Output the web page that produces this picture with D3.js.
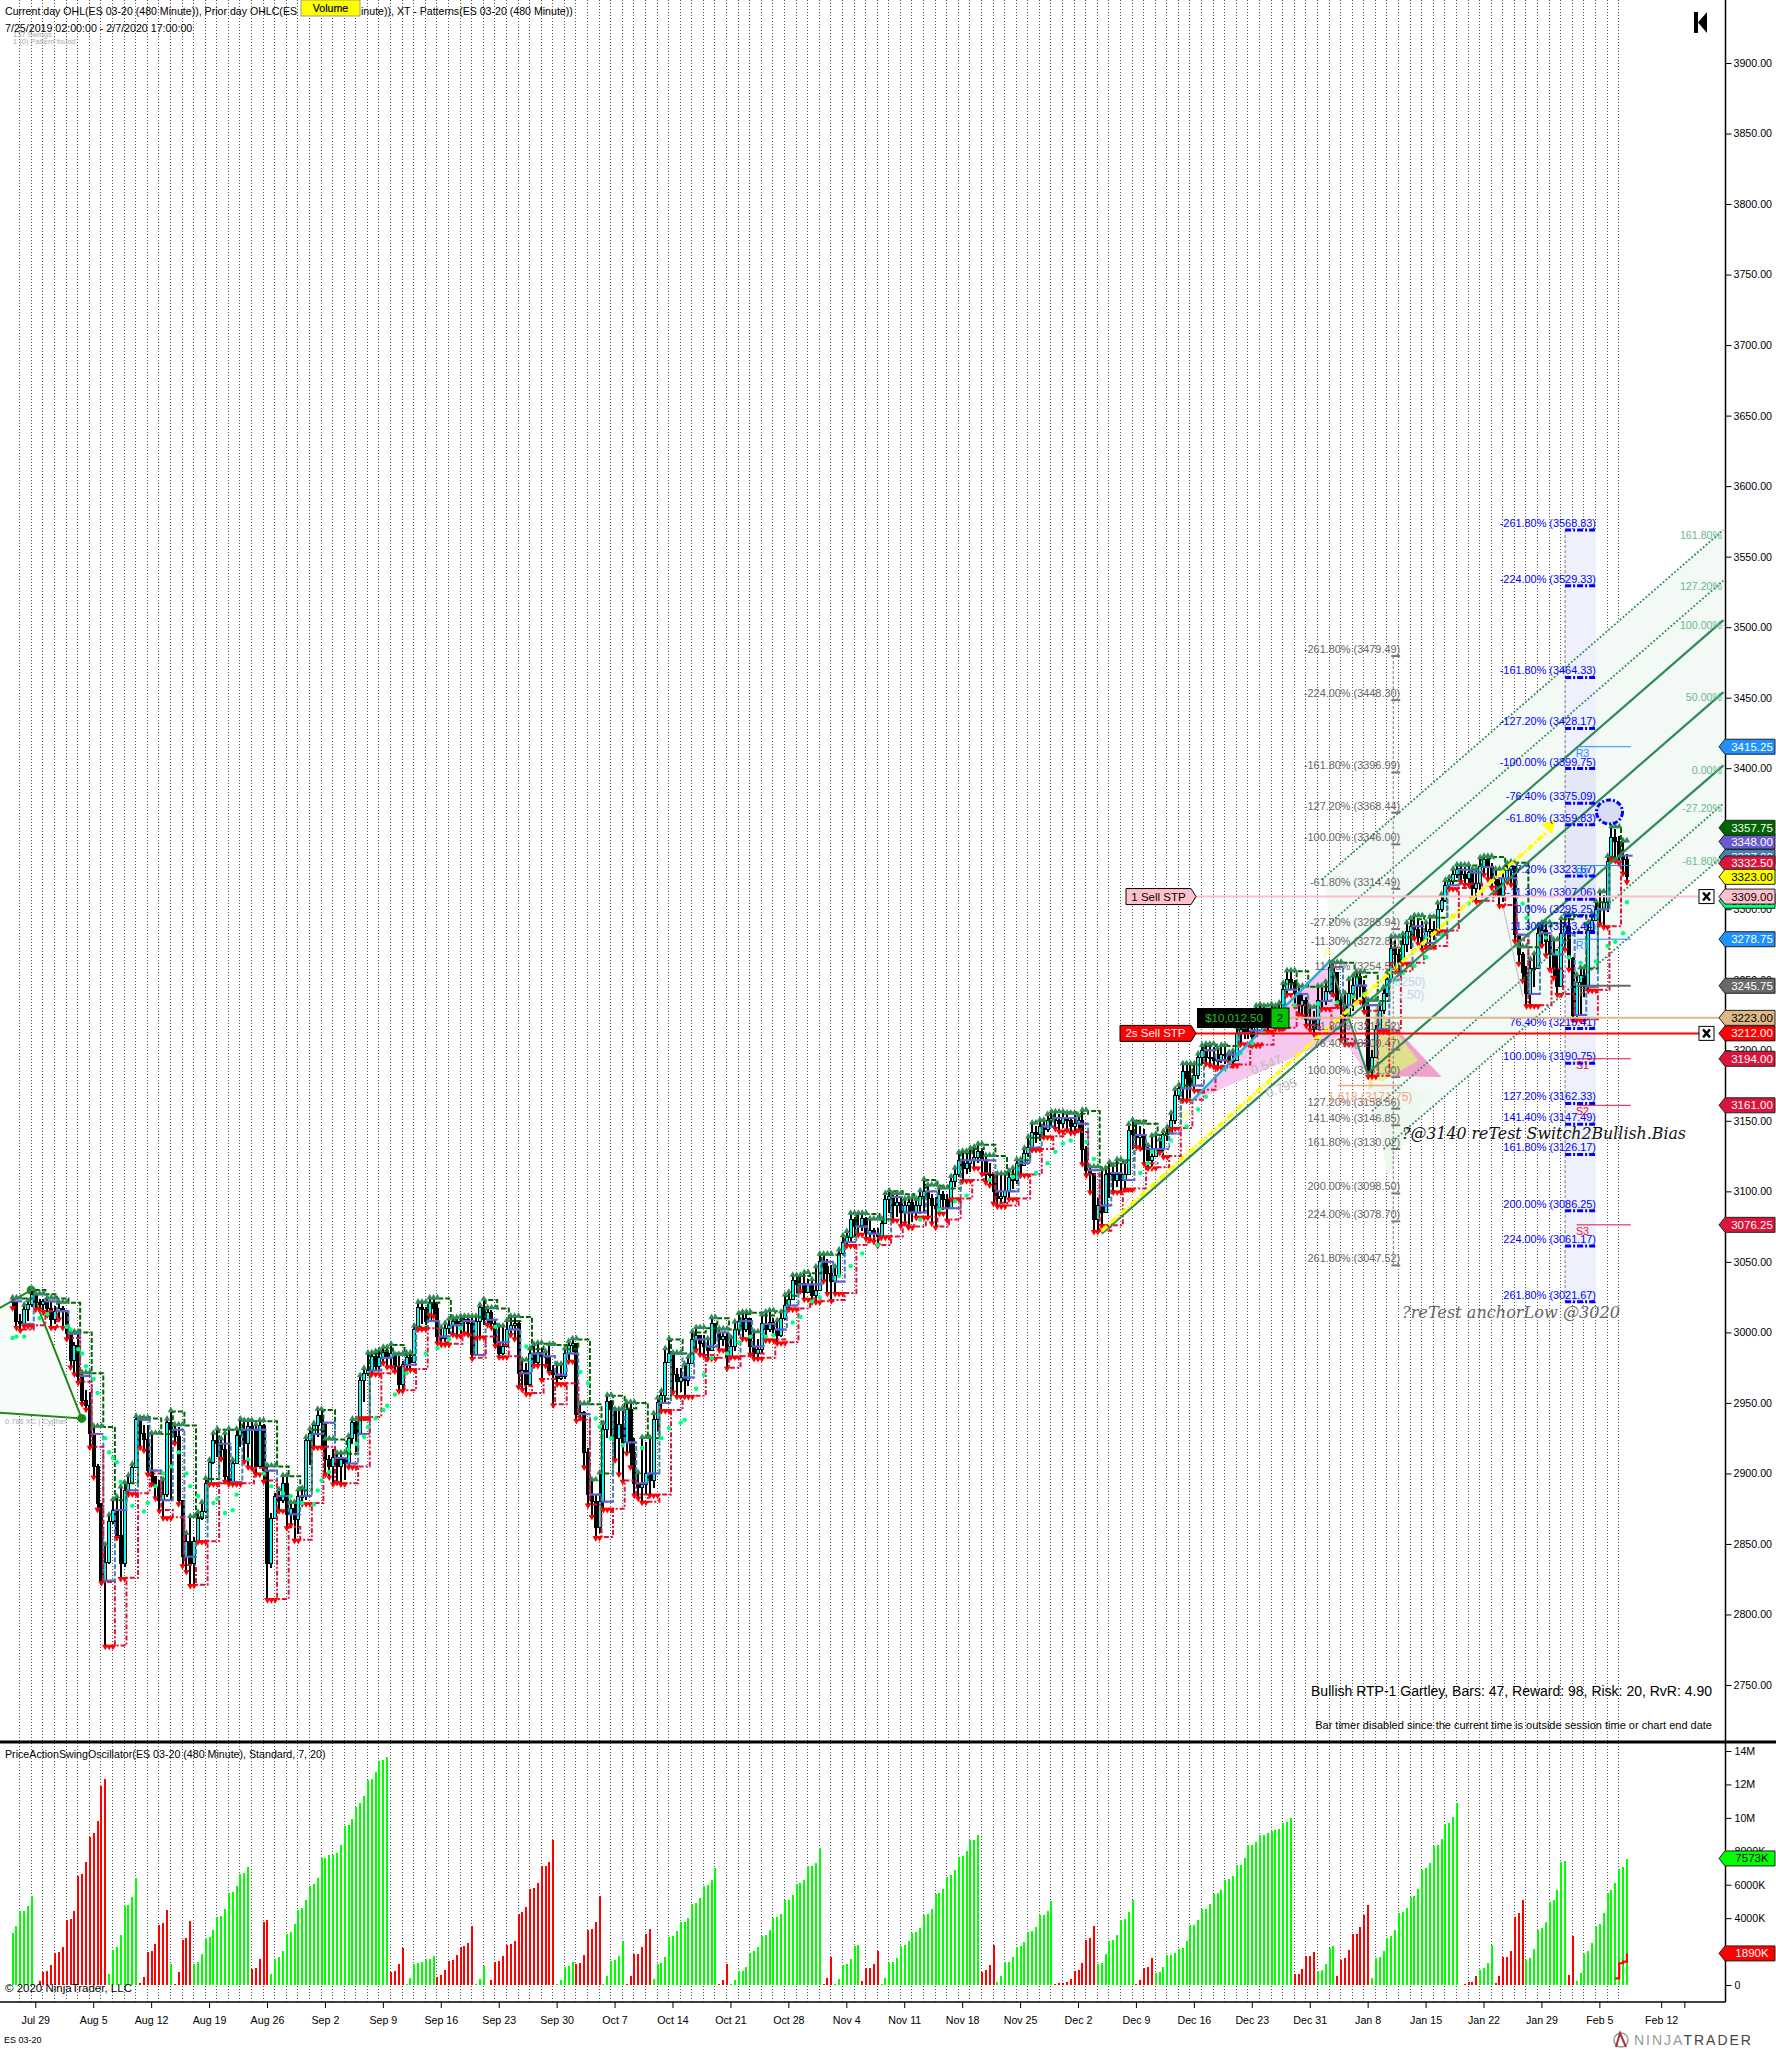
<!DOCTYPE html>
<html>
<head>
<meta charset="utf-8">
<style>
  body { margin: 0; background: #fff; }
  svg { display: block; }
  text { font-family: "Liberation Sans", Arial, sans-serif; font-size: 10.67px; }
</style>
<script src="https://cdn.jsdelivr.net/npm/d3@7"></script>
</head>
<body>
<svg width="1776" height="2049"></svg>
<script>
// 480 minute bars, ten values per row
var closes = [
  3022,3008,3006,3016,3020,3027,3021,3020,3022,3017,
  3009,3015,3017,3015,2999,2980,2991,2969,2952,2948,
  2928,2905,2879,2824,2837,2866,2874,2856,2836,2888,
  2893,2904,2938,2928,2924,2902,2898,2891,2881,2885,
  2936,2931,2926,2881,2841,2852,2836,2852,2868,2873,
  2893,2908,2923,2921,2917,2898,2894,2907,2927,2931,
  2921,2933,2931,2905,2934,2902,2836,2868,2884,2881,
  2893,2871,2875,2867,2884,2884,2923,2928,2934,2941,
  2936,2910,2905,2911,2905,2910,2907,2925,2936,2928,
  2966,2971,2973,2983,2976,2982,2986,2982,2985,2976,
  2963,2977,2982,2979,3002,3018,3016,3008,3021,3017,
  2997,2996,3003,3005,3008,3006,3008,3009,3006,2984,
  3008,3018,3009,3014,3006,2993,2985,2990,3002,3005,
  3006,2971,2973,2963,2985,2979,2986,2983,2983,2973,
  2970,2967,2969,2985,2991,2992,2942,2943,2915,2885,
  2880,2862,2880,2931,2951,2945,2925,2935,2922,2945,
  2915,2893,2890,2892,2900,2895,2938,2950,2955,2979,
  2985,2970,2965,2968,2966,2978,2995,2998,2992,2990,
  2987,3006,3000,2995,2997,2982,2990,3002,3008,3002,
  3010,2990,2985,2988,3006,3002,3007,3002,2998,3010,
  3019,3023,3037,3034,3035,3028,3034,3026,3030,3050,
  3047,3042,3036,3040,3056,3064,3067,3080,3075,3076,
  3081,3070,3072,3070,3068,3077,3094,3096,3090,3092,
  3085,3090,3092,3085,3090,3096,3100,3095,3090,3088,
  3098,3094,3088,3107,3112,3122,3116,3120,3122,3124,
  3128,3122,3112,3112,3100,3095,3096,3100,3110,3108,
  3120,3118,3127,3131,3142,3140,3146,3144,3150,3152,
  3150,3148,3152,3150,3146,3148,3150,3130,3115,3113,
  3080,3090,3085,3112,3113,3108,3112,3108,3112,3143,
  3140,3138,3140,3130,3122,3125,3130,3130,3140,3141,
  3150,3168,3173,3185,3180,3175,3182,3195,3200,3195,
  3195,3193,3193,3197,3197,3193,3193,3212,3215,3213,
  3214,3210,3225,3223,3222,3220,3228,3222,3228,3243,
  3250,3248,3240,3232,3235,3222,3223,3215,3235,3235,
  3242,3259,3255,3235,3232,3225,3240,3246,3252,3245,
  3232,3186,3195,3215,3228,3240,3250,3272,3268,3262,
  3275,3284,3288,3286,3280,3276,3284,3286,3282,3300,
  3306,3317,3320,3325,3328,3325,3322,3326,3315,3318,
  3330,3335,3330,3322,3318,3310,3322,3328,3330,3282,
  3268,3255,3240,3258,3258,3283,3285,3277,3268,3258,
  3245,3283,3288,3265,3225,3248,3253,3245,3285,3292,
  3300,3300,3305,3334,3351,3348,3338,3335,3323
];
var highs = [
  3024,3022,3013,3019,3022,3030,3027,3024,3024,3024,
  3022,3019,3021,3019,3016,3000,2993,2999,2971,2959,
  2958,2933,2907,2878,2849,2870,2881,2883,2890,2893,
  2898,2906,2940,2939,2934,2934,2928,2898,2895,2895,
  2938,2944,2934,2933,2881,2857,2869,2855,2872,2879,
  2896,2909,2928,2931,2924,2928,2931,2909,2931,2938,
  2937,2937,2937,2934,2937,2935,2905,2872,2886,2888,
  2898,2898,2879,2878,2888,2889,2925,2931,2935,2945,
  2945,2924,2913,2917,2914,2914,2912,2926,2938,2937,
  2969,2974,2985,2985,2986,2987,2989,2989,2991,2984,
  2983,2980,2985,2985,3004,3021,3021,3018,3024,3024,
  3021,3003,3006,3009,3010,3010,3011,3011,3010,3010,
  3011,3019,3023,3017,3016,3009,3004,3004,3008,3011,
  3011,3009,2980,2978,2988,2991,2992,2989,2986,2991,
  2977,2977,2977,2988,2993,2995,2992,2949,2944,2918,
  2895,2885,2900,2935,2955,2952,2945,2945,2946,2950,
  2950,2925,2900,2925,2922,2925,2942,2953,2958,2988,
  2995,2985,2975,2975,2977,2982,3000,3003,2998,2998,
  2995,3010,3005,3002,3000,3000,2996,3007,3013,3014,
  3014,3010,3000,2995,3012,3014,3015,3010,3008,3014,
  3026,3028,3040,3040,3040,3042,3038,3037,3046,3055,
  3055,3052,3048,3046,3058,3068,3071,3084,3082,3084,
  3084,3082,3080,3074,3074,3080,3098,3100,3098,3098,
  3095,3094,3095,3095,3094,3100,3108,3104,3098,3096,
  3102,3100,3098,3110,3116,3127,3128,3127,3130,3131,
  3133,3131,3125,3120,3112,3112,3112,3112,3114,3116,
  3122,3122,3130,3138,3148,3146,3150,3150,3154,3156,
  3156,3155,3156,3155,3153,3154,3153,3157,3132,3117,
  3112,3095,3115,3116,3120,3118,3122,3120,3120,3147,
  3150,3148,3146,3144,3132,3139,3140,3136,3142,3145,
  3155,3172,3175,3190,3190,3190,3190,3197,3203,3204,
  3203,3202,3201,3203,3203,3198,3199,3216,3218,3218,
  3220,3220,3231,3232,3231,3230,3232,3231,3233,3247,
  3256,3256,3250,3245,3240,3238,3230,3228,3245,3245,
  3248,3262,3262,3250,3240,3240,3250,3252,3255,3255,
  3250,3235,3200,3218,3232,3244,3255,3280,3278,3272,
  3282,3290,3293,3295,3294,3292,3290,3294,3292,3304,
  3310,3320,3322,3328,3331,3331,3330,3331,3328,3328,
  3336,3337,3337,3333,3328,3322,3327,3332,3333,3331,
  3273,3270,3260,3264,3268,3288,3290,3290,3282,3278,
  3272,3293,3296,3294,3266,3253,3258,3258,3290,3296,
  3305,3312,3310,3337,3358,3357,3352,3348,3339
];
var lows = [
  3018,3004,3002,3005,3008,3018,3017,3017,3015,3013,
  3004,3006,3010,3004,2996,2976,2971,2965,2950,2946,
  2919,2898,2875,2823,2778,2836,2864,2855,2826,2834,
  2886,2893,2905,2919,2917,2900,2893,2883,2874,2869,
  2883,2881,2922,2879,2835,2831,2821,2821,2852,2867,
  2872,2893,2907,2912,2911,2895,2893,2893,2907,2919,
  2909,2905,2904,2900,2904,2895,2811,2833,2868,2874,
  2879,2862,2864,2853,2857,2879,2881,2906,2919,2926,
  2919,2900,2898,2893,2894,2893,2895,2905,2921,2915,
  2940,2951,2969,2971,2973,2973,2979,2976,2976,2973,
  2959,2959,2974,2974,2978,3003,3006,3005,3013,3012,
  2993,2992,2993,2999,2999,2998,2999,3000,2999,2982,
  2997,2997,3005,3006,3004,2991,2983,2984,2991,2999,
  2996,2962,2960,2957,2963,2977,2977,2967,2977,2972,
  2949,2964,2966,2967,2980,2986,2938,2940,2905,2878,
  2870,2855,2858,2875,2925,2925,2910,2900,2895,2915,
  2905,2885,2883,2880,2885,2885,2890,2930,2945,2950,
  2978,2958,2955,2958,2955,2962,2978,2988,2985,2984,
  2982,2990,2992,2988,2990,2975,2983,2987,2998,2996,
  3000,2985,2982,2982,2985,2995,3000,2997,2993,2997,
  3009,3017,3025,3028,3030,3024,3028,3022,3022,3035,
  3037,3028,3023,3028,3040,3055,3062,3065,3068,3070,
  3072,3067,3066,3065,3062,3068,3078,3085,3080,3082,
  3076,3078,3075,3078,3082,3084,3085,3082,3078,3075,
  3085,3087,3080,3095,3103,3110,3108,3112,3114,3117,
  3120,3113,3107,3105,3092,3090,3091,3092,3095,3102,
  3105,3112,3118,3124,3130,3134,3136,3139,3142,3146,
  3145,3143,3145,3144,3142,3143,3144,3120,3112,3100,
  3072,3072,3076,3085,3095,3100,3103,3100,3102,3116,
  3130,3132,3131,3120,3117,3117,3125,3128,3125,3136,
  3145,3148,3165,3165,3165,3166,3172,3180,3190,3191,
  3190,3189,3188,3191,3190,3192,3190,3195,3205,3208,
  3208,3204,3210,3216,3215,3214,3218,3216,3218,3232,
  3240,3243,3232,3226,3225,3218,3215,3212,3215,3230,
  3232,3240,3240,3232,3208,3205,3222,3228,3235,3238,
  3228,3182,3182,3195,3214,3226,3238,3262,3258,3256,
  3262,3270,3272,3280,3276,3272,3274,3275,3278,3285,
  3298,3305,3315,3318,3322,3320,3318,3318,3308,3306,
  3314,3325,3322,3316,3312,3303,3305,3320,3318,3278,
  3262,3250,3232,3232,3245,3260,3275,3268,3258,3252,
  3240,3250,3272,3258,3222,3222,3225,3238,3243,3283,
  3292,3290,3288,3298,3336,3335,3333,3326,3320
];

// swing oscillator in K, positive is a green bar, negative a red one
var oscillator = [
  3140,3540,4440,4440,4740,5340,0,
  -240,-780,-840,-1200,-1940,-1980,-2280,-3860,-3960,-4440,-6540,-6660,-7380,-8880,-9120,-9840,-11900,-12300,
  660,2100,2280,3000,4740,4800,5280,6420,
  -120,-480,-1980,-2040,-2460,-3600,-3720,-4500,
  1260,
  -60,-780,-2700,-2820,-3840,
  1260,1380,1860,2820,2880,3300,4080,4140,4560,5520,5580,5940,6660,6720,7080,
  -960,-1020,-1560,-3740,-3900,
  660,1560,1680,2040,3060,3180,3660,4500,4620,5100,5940,6060,6420,7580,7620,7760,7800,7920,8400,9500,
  9600,9960,10660,10860,11280,12280,12300,12720,13380,13440,13660,
  -780,-840,-1260,-2220,
  60,420,1260,1320,1380,1540,1580,1740,
  -500,-600,-900,-1460,-1500,-1800,-2300,-2340,-2520,-3540,
  60,360,1140,0,
  -300,-1380,-1440,-1740,-2420,-2460,-2640,-4260,-4380,-4680,-5760,-5820,-6120,-7100,-7140,-7380,-8700,
  60,300,1080,1140,1380,
  -1260,-1320,-1800,-3300,-3360,-3780,-5300,
  60,540,1460,1500,1740,2640,
  -60,-540,-1840,-1860,-2280,-3060,-3360,
  360,1260,1320,1680,2880,2940,3240,3740,3780,4020,4860,4920,5220,5940,6000,6300,7020,
  -60,-300,-1260,
  60,300,840,840,1080,1920,2040,2280,2940,3000,3300,4020,4080,4260,5100,5100,5400,6060,6120,6300,7100,7140,7320,8220,
  -60,-420,-1680,
  60,360,1200,1260,1560,2340,2400,
  -240,-1020,-1020,-1260,-2040,
  60,420,1340,1380,1620,2340,2400,2640,3120,3180,3420,4200,4260,4560,5460,5520,5760,6480,6600,6900,7680,7740,8040,8680,8700,9000,
  -780,-900,-1200,-2400,
  180,540,1380,1380,1680,2280,2340,2580,3180,3240,3480,4200,4200,4440,5040,
  -60,-120,-120,-180,-360,-840,-900,-1320,-2700,-2820,-3540,
  1260,1320,1860,2640,2700,3000,3900,3960,4380,5100,
  -60,-300,-1020,-1080,-1620,
  720,780,1080,1800,1800,1920,2160,2220,2640,
  3560,3600,3900,4560,4560,4860,5460,5520,5700,6300,6360,6540,7200,7200,7620,8400,8400,8580,9000,9000,9120,9240,9300,9360,9720,9780,10020,
  -660,-660,-960,-1740,-1740,-1980,
  840,900,1260,2220,2340,
  -540,-1500,-1620,-2100,-3040,-3060,-3480,-4200,-4800,
  420,1620,1680,2040,2820,2940,3300,4320,4380,4620,5280,5340,5760,6900,7020,7320,8340,8400,8760,9660,9720,10080,10860,
  0,
  -60,-160,-180,-540,
  900,1020,1320,2400,
  -120,-540,-1680,-1680,-2040,-4080,-4320,-5100,
  1500,1620,2160,3300,3420,3780,4980,5100,5700,7360,7440,
  -600,-2940,
  240,720,1860,2040,2520,3540,3660,4320,5520,5700,6120,6960,7080,7560
];
var oscLineBars = [415, 416, 417, 418];
var oscLineValues = [400, 1300, 1400, 1890];

// green trailing dots
var dotBars = [0,1,3,7,9,14,15,17,18,19,21,22,24,25,26,27,28,31,34,35,37,39,41,43,45,46,48,52,53,55,57,58,61,65,67,70,72,75,78,79,80,82,87,89,91,92,94,96,97,99,102,107,110,113,116,125,
  133,147,149,151,152,155,158,163,168,170,173,174,177,179,181,185,188,191,195,197,202,204,207,209,214,217,220,224,235,240,244,247,253,259,265,268,270,272,274,278,280,
  292,294,295,300,304,307,309,314,318,321,324,329,332,338,343,347,350,358,360,363,366,370,373,377,391,392,397,400,403,406,410,413,415,417,418];
var dotPrices = [2996,2997,2997,3010,3013,3004,3002,2988,2985,2976,2967,2957,2925,2915,2911,2908,2894,2877,2873,2879,2891,2900,2905,2915,2900,2891,2884,2879,2882,2872,2874,2885,2910,2900,2891,2886,2884,2879,2878,2888,2895,2901,2917,2921,2926,2933,2939,2945,2948,2956,2971,2985,2989,2995,3003,3004,
  2990,2972,2964,2939,2933,2925,2920,2918,2925,2932,2936,2938,2960,2970,2982,2985,2993,2997,2997,2998,3007,3011,3022,3025,3040,3047,3056,3062,3080,3087,3093,3097,3108,3110,3113,3120,3128,3134,3136,3135,3123,
  3113,3120,3128,3136,3146,3158,3167,3187,3198,3205,3212,3226,3232,3233,3234,3238,3240,3250,3255,3260,3266,3282,3295,3304,3304,3294,3280,3269,3266,3262,3263,3274,3277,3283,3305];

// axes
var priceTicks = d3.range(2750, 3901, 50);
var oscTicks = [0, 2000, 4000, 6000, 8000, 10000, 12000, 14000];
var oscTickLabels = ["0", "2000K", "4000K", "6000K", "8000K", "10M", "12M", "14M"];
var tickBars = [6,21,36,51,66,81,96,111,126,141,156,171,186,201,216,231,246,261,276,291,306,321,336,351,366,381,396,411,427,433];
var tickLabels = ["Jul 29","Aug 5","Aug 12","Aug 19","Aug 26","Sep 2","Sep 9","Sep 16","Sep 23","Sep 30","Oct 7","Oct 14","Oct 21","Oct 28","Nov 4","Nov 11","Nov 18","Nov 25","Dec 2","Dec 9","Dec 16","Dec 23","Dec 31","Jan 8","Jan 15","Jan 22","Jan 29","Feb 5","Feb 12",""];

// fibonacci levels
var fibGreyNames = ["-261.80%","-224.00%","-161.80%","-127.20%","-100.00%","-61.80%","-27.20%","-11.30%","11.30%","61.80%","76.40%","100.00%","127.20%","141.40%","161.80%","200.00%","224.00%","261.80%"];
var fibGreyPrices = [3479.49,3448.30,3396.99,3368.44,3346.00,3314.49,3285.94,3272.82,3254.50,3212.52,3200.47,3181.00,3158.56,3146.85,3130.02,3098.50,3078.70,3047.52];
var fibBlueNames = ["-261.80%","-224.00%","-161.80%","-127.20%","-100.00%","-76.40%","-61.80%","-27.20%","-11.30%","0.00%","11.30%","76.40%","100.00%","127.20%","141.40%","161.80%","200.00%","224.00%","261.80%"];
var fibBluePrices = [3568.83,3529.33,3464.33,3428.17,3399.75,3375.09,3359.83,3323.67,3307.06,3295.25,3283.44,3215.41,3190.75,3162.33,3147.49,3126.17,3086.25,3061.17,3021.67];

// pitchfork lines, start and end as bar and price
var forkLevels = ["161.80%","127.20%","100.00%","50.00%","0.00%","-27.20%","-61.80%"];
var forkStartBars = [339,341,341,282,351,352,355];
var forkStartPrices = [3321,3290,3262,3070,3184,3157,3130];
var forkEndPrices = [3569,3533,3505,3454,3402,3375,3338];
var forkEndBar = 443;

// pivots and price markers on the right
var pivotNames = ["R3","R2","R1","P","S1","S2","S3"];
var pivotPrices = [3415.25,3331,3278.75,3245.75,3194,3161,3076.25];
var pivotColors = ["#1e90ff","#1e90ff","#1e90ff","#696969","#dc143c","#dc143c","#dc143c"];
var tagPrices = [3415.25,3337,3348,3357.75,3332.5,3306,3323,3309,3278.75,3245.75,3223,3212,3194,3161,3076.25];
var tagColors = ["#1e90ff","#4682b4","#6a5acd","#006400","#dc143c","#00ff7f","#ffff00","#ffc0cb","#1e90ff","#696969","#deb887","#ff0000","#dc143c","#dc143c","#dc143c"];
var tagTextColors = ["#fff","#fff","#fff","#fff","#fff","#000","#000","#000","#fff","#fff","#000","#fff","#fff","#fff","#fff"];

var svg = d3.select("svg");

var x = d3.scaleLinear().domain([0, 418]).range([12.6, 1626.9]);
var y = d3.scaleLinear().domain([3900, 2750]).range([63, 1685]);
var yOsc = d3.scaleLinear().domain([0, 14000]).range([1985, 1751]);

var bars = closes.map(function(c, i) {
  return { i: i, open: i ? closes[i - 1] : c, close: c, high: highs[i], low: lows[i] };
});

// a session is three bars, prior day lines and running high/low come from it
var days = d3.range(0, bars.length, 3).map(function(s) {
  var b = bars.slice(s, s + 3);
  return {
    start: s,
    open: b[0].open,
    close: b[b.length - 1].close,
    high: d3.max(b, function(d) { return d.high; }),
    low: d3.min(b, function(d) { return d.low; })
  };
});
bars.forEach(function(b) {
  var s = b.i - b.i % 3;
  var sofar = bars.slice(s, b.i + 1);
  b.runHigh = d3.max(sofar, function(d) { return d.high; });
  b.runLow = d3.min(sofar, function(d) { return d.low; });
});

// vertical grid
svg.append("g")
    .attr("shape-rendering", "crispEdges")
    .selectAll("line")
    .data(d3.range(2, 417, 3))
    .enter().append("line")
    .attr("x1", function(d) { return Math.round(x(d) - 1) + 0.5; })
    .attr("x2", function(d) { return Math.round(x(d) - 1) + 0.5; })
    .attr("y1", 0)
    .attr("y2", 2002)
    .attr("stroke", "#555")
    .attr("stroke-dasharray", "1 2");

// faint fill of the cypher on the far left
var poly = d3.line().x(function(d) { return x(d[0]); }).y(function(d) { return y(d[1]); });
var cypherPts = [[-8, 3010], [4.8, 3030], [17.9, 2939], [-8, 2944]];
svg.append("path")
    .attr("d", poly(cypherPts) + "Z")
    .attr("fill", "#f8fcf8")
    .attr("stroke", "#1a8a1a")
    .attr("stroke-width", 2);
svg.append("g").selectAll("circle")
    .data([cypherPts[1], cypherPts[2]])
    .enter().append("circle")
    .attr("cx", function(d) { return x(d[0]); })
    .attr("cy", function(d) { return y(d[1]); })
    .attr("r", 4.5)
    .attr("fill", "#1a8a1a");

// pitchfork fill
var forkFill = [[forkStartBars[0], forkStartPrices[0]], [forkEndBar, forkEndPrices[0]], [forkEndBar, forkEndPrices[6]], [forkStartBars[6], forkStartPrices[6]]];
svg.append("path")
    .attr("d", poly(forkFill) + "Z")
    .attr("fill", "#f3f9f5");

// fib band behind the bars
svg.append("rect")
    .attr("x", x(402)).attr("width", x(410) - x(402))
    .attr("y", y(3568.83)).attr("height", y(3021.67) - y(3568.83))
    .attr("fill", "#eef0fb");
svg.append("rect")
    .attr("x", x(402)).attr("width", x(410) - x(402))
    .attr("y", y(3399.75)).attr("height", y(3295.25) - y(3399.75))
    .attr("fill", "#e4e7f5");

// gartley shapes
svg.append("path").attr("d", poly([[305, 3163], [341, 3263], [344, 3210]]) + "Z").attr("fill", "#f7c8ef");
svg.append("path").attr("d", poly([[341, 3263], [351, 3182], [344, 3210]]) + "Z").attr("fill", "#f7c8ef");
svg.append("path").attr("d", poly([[353, 3231], [370, 3181], [351, 3182]]) + "Z").attr("fill", "#f088c0").attr("opacity", 0.8);
svg.append("path").attr("d", poly([[353, 3231], [364, 3193], [351, 3172]]) + "Z").attr("fill", "#dcee80").attr("opacity", 0.8);
svg.append("path").attr("d", poly([[352, 3180], [366, 3170], [356, 3110]]) + "Z").attr("fill", "#eef8ee");

// candles
var candles = svg.append("g").attr("shape-rendering", "crispEdges");
candles.selectAll(".wick")
    .data(bars)
    .enter().append("line")
    .attr("class", "wick")
    .attr("x1", function(d) { return Math.round(x(d.i)); })
    .attr("x2", function(d) { return Math.round(x(d.i)); })
    .attr("y1", function(d) { return y(d.high); })
    .attr("y2", function(d) { return y(d.low); })
    .attr("stroke", "#000")
    .attr("stroke-width", 1.5);
candles.selectAll(".body")
    .data(bars)
    .enter().append("rect")
    .attr("class", "body")
    .attr("x", function(d) { return Math.round(x(d.i)) - 1.5; })
    .attr("width", 3)
    .attr("y", function(d) { return y(Math.max(d.open, d.close)); })
    .attr("height", function(d) { return Math.max(1, Math.abs(y(d.open) - y(d.close))); })
    .attr("fill", function(d) { return d.close >= d.open ? "#00ffff" : "#000"; })
    .attr("stroke", "#000")
    .attr("stroke-width", 1);

// prior day step lines
function priorLine(key, color, dash) {
  var pts = days.slice(1).map(function(d, k) { return [d.start, days[k][key]]; });
  svg.append("path")
      .attr("d", d3.line()
        .x(function(d) { return x(d[0]) - 2; })
        .y(function(d) { return y(d[1]); })
        .curve(d3.curveStepAfter)(pts))
      .attr("fill", "none")
      .attr("stroke", color)
      .attr("stroke-width", 2)
      .attr("stroke-dasharray", dash);
}
priorLine("high", "#006400", "5 2");
priorLine("close", "#4682b4", "5 2");
priorLine("low", "#dc143c", "5 2 2 2");

// current day open
svg.append("g").selectAll("line")
    .data(days)
    .enter().append("line")
    .attr("x1", function(d) { return x(d.start) - 2; })
    .attr("x2", function(d) { return x(d.start + 3) - 2; })
    .attr("y1", function(d) { return y(d.open); })
    .attr("y2", function(d) { return y(d.open); })
    .attr("stroke", "#6a5acd")
    .attr("stroke-width", 2);

// running day high and low markers
var tri = d3.symbol().type(d3.symbolTriangle).size(18);
svg.append("g").selectAll("path")
    .data(bars)
    .enter().append("path")
    .attr("d", tri)
    .attr("transform", function(d) { return "translate(" + x(d.i) + "," + (y(d.runHigh) - 1) + ")"; })
    .attr("fill", "#2e8b57");
svg.append("g").selectAll("path")
    .data(bars)
    .enter().append("path")
    .attr("d", tri)
    .attr("transform", function(d) { return "translate(" + x(d.i) + "," + (y(d.runLow) + 1) + ") rotate(180)"; })
    .attr("fill", "#ff0000");

// trailing dots
svg.append("g").selectAll("circle")
    .data(dotBars)
    .enter().append("circle")
    .attr("cx", function(d) { return x(d); })
    .attr("cy", function(d, i) { return y(dotPrices[i]); })
    .attr("r", 2.2)
    .attr("fill", "#00ff7f");

// pitchfork lines on top of the bars
var fork = svg.append("g");
forkLevels.forEach(function(name, k) {
  var solid = k >= 2 && k <= 4;
  fork.append("line")
      .attr("x1", x(forkStartBars[k])).attr("y1", y(forkStartPrices[k]))
      .attr("x2", x(forkEndBar)).attr("y2", y(forkEndPrices[k]))
      .attr("stroke", "#2e8b57")
      .attr("stroke-width", solid ? 2.2 : 1.8)
      .attr("stroke-dasharray", solid ? null : "1.8 2");
  fork.append("text")
      .attr("x", 1722)
      .attr("y", y(forkEndPrices[k]) + 9)
      .attr("text-anchor", "end")
      .attr("fill", "#68b98c")
      .text(name);
});

// pattern legs and the target arrow
var legs = svg.append("g").attr("fill", "none");
legs.append("path").attr("d", poly([[305, 3163], [341, 3263]])).attr("stroke", "#29abe2").attr("stroke-width", 2.5);
legs.append("path").attr("d", poly([[341, 3263], [351, 3182]])).attr("stroke", "#2e8b57").attr("stroke-width", 2);
legs.append("path").attr("d", poly([[287.5, 3089], [307.5, 3163]])).attr("stroke", "#ddd").attr("stroke-width", 1);
legs.append("path").attr("d", poly([[386, 3301], [391, 3238]])).attr("stroke", "#bbb").attr("stroke-width", 1);
legs.append("path").attr("d", poly([[282, 3072], [397, 3354]])).attr("stroke", "#ffff00").attr("stroke-width", 3.6).attr("stroke-dasharray", "7 2 2 2");
svg.append("path")
    .attr("d", d3.symbol().type(d3.symbolTriangle).size(90))
    .attr("transform", "translate(" + x(398) + "," + y(3359) + ") rotate(42)")
    .attr("fill", "#ffff00");

// grey fib
var fibGrey = svg.append("g");
fibGrey.append("line")
    .attr("x1", x(357.5)).attr("x2", x(357.5))
    .attr("y1", y(fibGreyPrices[0])).attr("y2", y(fibGreyPrices[fibGreyPrices.length - 1]))
    .attr("stroke", "#777").attr("stroke-dasharray", "3 2");
fibGreyPrices.forEach(function(p, k) {
  fibGrey.append("line")
      .attr("x1", x(357)).attr("x2", x(359.3))
      .attr("y1", y(p)).attr("y2", y(p))
      .attr("stroke", "#777").attr("stroke-width", 2);
  fibGrey.append("text")
      .attr("x", x(359.3)).attr("y", y(p) - 3)
      .attr("text-anchor", "end").attr("fill", "#666")
      .style("font-size", "10.9px")
      .text(fibGreyNames[k] + " (" + p.toFixed(2) + ")");
});

// blue fib
var fibBlue = svg.append("g");
fibBlue.append("line")
    .attr("x1", x(402)).attr("x2", x(402))
    .attr("y1", y(3568.83)).attr("y2", y(3021.67))
    .attr("stroke", "#777").attr("stroke-dasharray", "3 2");
fibBluePrices.forEach(function(p, k) {
  fibBlue.append("line")
      .attr("x1", x(402)).attr("x2", x(410))
      .attr("y1", y(p)).attr("y2", y(p))
      .attr("stroke", "#0000ff").attr("stroke-width", 3).attr("stroke-dasharray", "6 2 2 2");
  fibBlue.append("text")
      .attr("x", x(410)).attr("y", y(p) - 3)
      .attr("text-anchor", "end").attr("fill", "#0000ff")
      .style("font-size", "10.9px")
      .text(fibBlueNames[k] + " (" + p.toFixed(2) + ")");
});
svg.append("ellipse")
    .attr("cx", x(413.5)).attr("cy", y(3369)).attr("rx", 13).attr("ry", 12)
    .attr("fill", "#d8dcf4").attr("stroke", "#0000ff").attr("stroke-width", 3).attr("stroke-dasharray", "5 2 2 2");

// pivots
var pivots = svg.append("g");
pivotPrices.forEach(function(p, k) {
  pivots.append("line")
      .attr("x1", x(405)).attr("x2", x(419))
      .attr("y1", y(p)).attr("y2", y(p))
      .attr("stroke", pivotColors[k]).attr("stroke-width", pivotNames[k] == "P" ? 2 : 1);
  pivots.append("text")
      .attr("x", x(406.5)).attr("y", y(p) + 10)
      .attr("text-anchor", "middle").attr("fill", pivotColors[k]).attr("font-size", 11)
      .text(pivotNames[k]);
});

// small notes around the pattern
function note(txt, px, py, color, size, rot) {
  var t = svg.append("text")
      .attr("x", px).attr("y", py)
      .attr("text-anchor", "middle").attr("fill", color)
      .text(txt);
  if (size) t.style("font-size", size + "px");
  if (rot) t.attr("transform", "rotate(" + rot + " " + px + " " + py + ")");
}
note("A", 1328, 957, "#ffff66", 12);
note("X", 1185, 1120, "#ffff66", 12);
note("0.547", 1268, 1069, "#bbb", 13, -22);
note("0.795", 1283, 1092, "#bbb", 13, -22);
note("1.618 (3171.75)", 1370, 1101, "#f4a582", 12);
note("(3250)", 1408, 986, "#c4d3ee", 12);
note("(.50)", 1412, 999, "#c4d3ee", 12);
svg.append("line").attr("x1", 1338).attr("x2", 1400).attr("y1", y(3175)).attr("y2", y(3175)).attr("stroke", "#f4a582").attr("stroke-width", 1.5);

// tan position line, then chart trader orders
svg.append("line").attr("x1", 1289).attr("x2", 1725).attr("y1", y(3223)).attr("y2", y(3223)).attr("stroke", "#deb887").attr("stroke-width", 2);
svg.append("line").attr("x1", 1196).attr("x2", 1699).attr("y1", y(3309)).attr("y2", y(3309)).attr("stroke", "#ffc0cb").attr("stroke-width", 2);
svg.append("line").attr("x1", 1196).attr("x2", 1699).attr("y1", y(3212)).attr("y2", y(3212)).attr("stroke", "#ff0000").attr("stroke-width", 2);

function orderFlag(label, price, left, fill, textColor) {
  var cy = y(price), right = 1191;
  svg.append("path")
      .attr("d", "M" + left + "," + (cy - 8) + "H" + right + "L" + (right + 5) + "," + cy + "L" + right + "," + (cy + 8) + "H" + left + "Z")
      .attr("fill", fill).attr("stroke", "#000");
  svg.append("text")
      .attr("x", (left + right) / 2).attr("y", cy + 4)
      .attr("text-anchor", "middle").attr("fill", textColor)
      .style("font-size", "11.5px")
      .text(label);
  svg.append("rect").attr("x", 1699).attr("y", cy - 7).attr("width", 15).attr("height", 14)
      .attr("fill", "#fff").attr("stroke", "#000");
  svg.append("path")
      .attr("d", "M1703," + (cy - 4) + "L1710," + (cy + 4) + "M1710," + (cy - 4) + "L1703," + (cy + 4))
      .attr("stroke", "#000").attr("stroke-width", 2.4);
}
orderFlag("1  Sell STP", 3309, 1126, "#ffc0cb", "#000");
orderFlag("2s  Sell STP", 3212, 1120, "#ff0000", "#fff");

// profit box
svg.append("rect").attr("x", 1197).attr("y", 1008).attr("width", 74).attr("height", 20).attr("fill", "#000");
svg.append("rect").attr("x", 1271).attr("y", 1008).attr("width", 18).attr("height", 20).attr("fill", "#00c800").attr("stroke", "#000");
svg.append("text").attr("x", 1234).attr("y", 1022).attr("text-anchor", "middle").attr("fill", "#22c322").style("font-size", "11.5px").text("$10,012.50");
svg.append("text").attr("x", 1280).attr("y", 1022).attr("text-anchor", "middle").attr("fill", "#000").style("font-size", "11.5px").text("2");

// hand written notes
svg.append("text").attr("x", 1402).attr("y", 1139).attr("textLength", 284)
    .attr("lengthAdjust", "spacingAndGlyphs").attr("fill", "#111")
    .style("font-family", "'DejaVu Serif'").style("font-style", "italic").style("font-size", "17px")
    .text("?@3140 reTest Switch2Bullish.Bias");
svg.append("text").attr("x", 1402).attr("y", 1318).attr("textLength", 218)
    .attr("lengthAdjust", "spacingAndGlyphs").attr("fill", "#666")
    .style("font-family", "'DejaVu Serif'").style("font-style", "italic").style("font-size", "17px")
    .text("?reTest anchorLow @3020");

// oscillator
svg.append("g")
    .attr("shape-rendering", "crispEdges")
    .selectAll("rect")
    .data(oscillator)
    .enter().append("rect")
    .attr("x", function(d, i) { return Math.round(x(i)) - 1; })
    .attr("width", 2)
    .attr("y", function(d) { return yOsc(Math.abs(d)); })
    .attr("height", function(d) { return yOsc(0) - yOsc(Math.abs(d)); })
    .attr("fill", function(d) { return d >= 0 ? "#00ff00" : "#ff0000"; });
svg.append("path")
    .datum(oscLineBars)
    .attr("d", d3.line()
      .x(function(d) { return x(d); })
      .y(function(d, i) { return yOsc(oscLineValues[i]); })
      .curve(d3.curveStepAfter))
    .attr("fill", "none")
    .attr("stroke", "#ff0000")
    .attr("stroke-width", 2.2);

// axes
var priceAxis = svg.append("g")
    .attr("transform", "translate(1725.5,0)")
    .call(d3.axisRight(y).tickValues(priceTicks).tickFormat(d3.format(".2f")).tickSize(6).tickPadding(2));
var oscAxis = svg.append("g")
    .attr("transform", "translate(1725.5,0)")
    .call(d3.axisRight(yOsc).tickValues(oscTicks)
      .tickFormat(function(d, i) { return oscTickLabels[i]; }).tickSize(6).tickPadding(3));
var timeAxis = svg.append("g")
    .attr("transform", "translate(-0.5,2002)")
    .call(d3.axisBottom(x).tickValues(tickBars)
      .tickFormat(function(d, i) { return tickLabels[i]; }).tickSize(6).tickPadding(8));
[priceAxis, oscAxis, timeAxis].forEach(function(a) {
  a.select(".domain").remove();
  a.selectAll("text").attr("fill", "#000").style("font-family", "'Liberation Sans'").style("font-size", "10.67px");
  a.selectAll("line").attr("stroke", "#000");
});
svg.append("line").attr("x1", 1725.5).attr("x2", 1725.5).attr("y1", 0).attr("y2", 2002).attr("stroke", "#000").attr("stroke-width", 1.5);
svg.append("line").attr("x1", 0).attr("x2", 1725.5).attr("y1", 2002).attr("y2", 2002).attr("stroke", "#000").attr("stroke-width", 1.5);
svg.append("line").attr("x1", 0).attr("x2", 1776).attr("y1", 1742).attr("y2", 1742).attr("stroke", "#000").attr("stroke-width", 3);

// price tags on the axis
function tag(scale, value, label, fill, textColor) {
  var cy = scale(value);
  svg.append("path")
      .attr("d", "M1719," + cy + "L1725," + (cy - 7.5) + "H1775V" + (cy + 7.5) + "H1725Z")
      .attr("fill", fill).attr("stroke", "#222");
  svg.append("text")
      .attr("x", 1752).attr("y", cy + 4)
      .attr("text-anchor", "middle").attr("fill", textColor)
      .style("font-size", "11.5px")
      .text(label);
}
tagPrices.forEach(function(p, k) {
  tag(y, p, p.toFixed(2), tagColors[k], tagTextColors[k]);
});
tag(yOsc, 7573, "7573K", "#00ff00", "#000");
tag(yOsc, 1890, "1890K", "#ff0000", "#fff");

// skip to end button
svg.append("path").attr("d", "M1694,12h4v21h-4ZM1707,12v21l-9,-10.5Z").attr("fill", "#000");

// headers, the volume button sits in the gap of the first line
svg.append("text").attr("x", 5).attr("y", 15).style("font-size", "10.6px").text("Current day OHL(ES 03-20 (480 Minute)), Prior day OHLC(ES");
svg.append("rect").attr("x", 301).attr("y", 0).attr("width", 59).attr("height", 16).attr("fill", "#ffff00").attr("stroke", "#999");
svg.append("text").attr("x", 330.5).attr("y", 12).attr("text-anchor", "middle").attr("stroke", "#000").attr("stroke-width", 0.2).text("Volume");
svg.append("text").attr("x", 361).attr("y", 15).style("font-size", "10.6px").text("inute)), XT - Patterns(ES 03-20 (480 Minute))");
svg.append("text").attr("x", 5).attr("y", 32).text("7/25/2019 02:00:00 - 2/7/2020 17:00:00");
svg.append("text").attr("x", 13).attr("y", 37).attr("fill", "#aaa").style("font-size", "7.5px").text("137 Swings");
svg.append("text").attr("x", 13).attr("y", 44).attr("fill", "#aaa").style("font-size", "7.5px").text("1 (0) Pattern found");
svg.append("text").attr("x", 5).attr("y", 1424).attr("fill", "#aaa").style("font-size", "7.5px").text("0.786 XC | Cypher");
svg.append("text").attr("x", 5).attr("y", 1758).text("PriceActionSwingOscillator(ES 03-20 (480 Minute), Standard, 7, 20)");
svg.append("text").attr("x", 5).attr("y", 1992).style("font-size", "11.5px").text("\u00a9 2020 NinjaTrader, LLC");
svg.append("text").attr("x", 4).attr("y", 2043).style("font-size", "9px").text("ES 03-20");
svg.append("text").attr("x", 1712).attr("y", 1696).attr("text-anchor", "end").style("font-size", "14px").text("Bullish RTP-1 Gartley, Bars: 47, Reward: 98, Risk: 20, RvR: 4.90");
svg.append("text").attr("x", 1712).attr("y", 1729).attr("text-anchor", "end").style("font-size", "11px").text("Bar timer disabled since the current time is outside session time or chart end date");

// logo
svg.append("circle").attr("cx", 1621).attr("cy", 2040).attr("r", 7).attr("fill", "none").attr("stroke", "#999").attr("stroke-width", 1.5);
svg.append("path").attr("d", "M1616,2047L1620,2033L1626,2047").attr("fill", "none").attr("stroke", "#a33").attr("stroke-width", 2);
var logo = svg.append("text").attr("x", 1634).attr("y", 2045).style("font-size", "14px").attr("letter-spacing", 2);
logo.append("tspan").attr("fill", "#999").text("NINJA");
logo.append("tspan").attr("fill", "#444").text("TRADER");
</script>
</body>
</html>
